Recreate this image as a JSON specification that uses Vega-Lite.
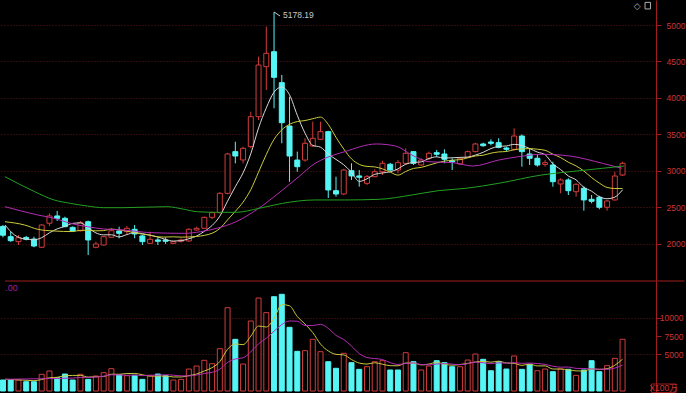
{
"$schema": "https://vega.github.io/schema/vega-lite/v6.json",
"background": "#000000",
"padding": 0,
"spacing": 0,
"bounds": "flush",
"resolve": {"scale": {"color": "independent"}},
"config": {
  "view": {"stroke": null},
  "axis": {"domainColor": "#a01e1e", "domainWidth": 1, "tickColor": "#a01e1e", "tickSize": 5, "labelColor": "#cc3434", "labelFont": "Liberation Sans", "labelFontSize": 8.5, "gridColor": "#5e1616", "gridDash": [1, 2], "gridWidth": 1, "format": "d"}
},
"datasets": {
"one": [{"k": 1}],
"candles": [
{"i":-1,"o":2240,"h":2260,"l":2090,"c":2120},
{"i":0,"o":2100,"h":2169,"l":2030,"c":2045},
{"i":1,"o":2032,"h":2123,"l":1986,"c":2086},
{"i":2,"o":2090,"h":2110,"l":2050,"c":2065},
{"i":3,"o":2068,"h":2100,"l":1955,"c":1972},
{"i":4,"o":1955,"h":2270,"l":1945,"c":2260},
{"i":5,"o":2284,"h":2420,"l":2246,"c":2384},
{"i":6,"o":2384,"h":2452,"l":2315,"c":2352},
{"i":7,"o":2352,"h":2374,"l":2230,"c":2237},
{"i":8,"o":2228,"h":2240,"l":2170,"c":2178},
{"i":9,"o":2182,"h":2315,"l":2169,"c":2292},
{"i":10,"o":2305,"h":2320,"l":1849,"c":2055},
{"i":11,"o":1955,"h":2032,"l":1941,"c":2000},
{"i":12,"o":1986,"h":2110,"l":1980,"c":2100},
{"i":13,"o":2092,"h":2215,"l":2085,"c":2182},
{"i":14,"o":2178,"h":2237,"l":2078,"c":2146},
{"i":15,"o":2169,"h":2246,"l":2123,"c":2215},
{"i":16,"o":2201,"h":2260,"l":2078,"c":2137},
{"i":17,"o":2110,"h":2123,"l":1986,"c":2032},
{"i":18,"o":2009,"h":2169,"l":2000,"c":2064},
{"i":19,"o":2055,"h":2091,"l":1986,"c":2037},
{"i":20,"o":2055,"h":2091,"l":2000,"c":2037},
{"i":21,"o":2009,"h":2040,"l":2000,"c":2032},
{"i":22,"o":2037,"h":2078,"l":2018,"c":2055},
{"i":23,"o":2041,"h":2215,"l":2032,"c":2201},
{"i":24,"o":2192,"h":2237,"l":2182,"c":2215},
{"i":25,"o":2215,"h":2374,"l":2205,"c":2365},
{"i":26,"o":2365,"h":2442,"l":2340,"c":2429},
{"i":27,"o":2429,"h":2710,"l":2420,"c":2694},
{"i":28,"o":2694,"h":3250,"l":2680,"c":3233},
{"i":29,"o":3265,"h":3401,"l":3105,"c":3205},
{"i":30,"o":3151,"h":3333,"l":3105,"c":3311},
{"i":31,"o":3333,"h":3812,"l":3311,"c":3744},
{"i":32,"o":3744,"h":4566,"l":3699,"c":4452},
{"i":33,"o":4429,"h":4977,"l":4110,"c":4612},
{"i":34,"o":4634,"h":5178.19,"l":3859,"c":4283},
{"i":35,"o":4210,"h":4315,"l":3380,"c":3662},
{"i":36,"o":3616,"h":4018,"l":2853,"c":3205},
{"i":37,"o":3150,"h":3265,"l":2990,"c":3059},
{"i":38,"o":3150,"h":3448,"l":3127,"c":3379},
{"i":39,"o":3342,"h":3676,"l":3330,"c":3448},
{"i":40,"o":3434,"h":3676,"l":3425,"c":3539},
{"i":41,"o":3539,"h":3550,"l":2630,"c":2740},
{"i":42,"o":2730,"h":2922,"l":2648,"c":2685},
{"i":43,"o":2685,"h":3030,"l":2670,"c":3013},
{"i":44,"o":3004,"h":3105,"l":2877,"c":2932},
{"i":45,"o":2932,"h":3013,"l":2785,"c":2914},
{"i":46,"o":2831,"h":2945,"l":2808,"c":2922},
{"i":47,"o":2922,"h":3023,"l":2915,"c":2990},
{"i":48,"o":2990,"h":3141,"l":2945,"c":3105},
{"i":49,"o":3092,"h":3110,"l":3000,"c":3013},
{"i":50,"o":3013,"h":3150,"l":2968,"c":3114},
{"i":51,"o":3105,"h":3311,"l":3082,"c":3242},
{"i":52,"o":3265,"h":3270,"l":3082,"c":3105},
{"i":53,"o":3082,"h":3174,"l":3068,"c":3150},
{"i":54,"o":3174,"h":3265,"l":3150,"c":3242},
{"i":55,"o":3251,"h":3288,"l":3196,"c":3229},
{"i":56,"o":3233,"h":3297,"l":3105,"c":3160},
{"i":57,"o":3141,"h":3174,"l":3013,"c":3123},
{"i":58,"o":3096,"h":3188,"l":3082,"c":3174},
{"i":59,"o":3188,"h":3280,"l":3180,"c":3265},
{"i":60,"o":3265,"h":3385,"l":3255,"c":3370},
{"i":61,"o":3370,"h":3388,"l":3333,"c":3346},
{"i":62,"o":3397,"h":3434,"l":3352,"c":3379},
{"i":63,"o":3388,"h":3448,"l":3311,"c":3324},
{"i":64,"o":3315,"h":3333,"l":3264,"c":3297},
{"i":65,"o":3297,"h":3585,"l":3278,"c":3479},
{"i":66,"o":3479,"h":3500,"l":3059,"c":3265},
{"i":67,"o":3233,"h":3311,"l":3082,"c":3174},
{"i":68,"o":3174,"h":3219,"l":3059,"c":3082},
{"i":69,"o":3090,"h":3150,"l":3059,"c":3114},
{"i":70,"o":3082,"h":3127,"l":2785,"c":2853},
{"i":71,"o":2822,"h":2900,"l":2694,"c":2877},
{"i":72,"o":2877,"h":2900,"l":2671,"c":2730},
{"i":73,"o":2716,"h":2831,"l":2648,"c":2818},
{"i":74,"o":2763,"h":2790,"l":2456,"c":2603},
{"i":75,"o":2612,"h":2671,"l":2557,"c":2585},
{"i":76,"o":2640,"h":2660,"l":2475,"c":2503},
{"i":77,"o":2503,"h":2603,"l":2456,"c":2589},
{"i":78,"o":2603,"h":2990,"l":2595,"c":2931},
{"i":79,"o":2945,"h":3127,"l":2931,"c":3105}
],
"ma": [
{"s":"MA5","i":-0.74,"p":2260},{"s":"MA5","i":0.5,"p":2123},{"s":"MA5","i":1.8,"p":2068},{"s":"MA5","i":3,"p":2058},{"s":"MA5","i":4,"p":2086},{"s":"MA5","i":5,"p":2153},{"s":"MA5","i":6,"p":2207},{"s":"MA5","i":7,"p":2241},{"s":"MA5","i":8,"p":2282},{"s":"MA5","i":9,"p":2289},{"s":"MA5","i":10,"p":2223},{"s":"MA5","i":11,"p":2152},{"s":"MA5","i":12,"p":2125},{"s":"MA5","i":13,"p":2126},{"s":"MA5","i":14,"p":2097},{"s":"MA5","i":15,"p":2129},{"s":"MA5","i":16,"p":2156},{"s":"MA5","i":17,"p":2142},{"s":"MA5","i":18,"p":2119},{"s":"MA5","i":19,"p":2097},{"s":"MA5","i":20,"p":2061},{"s":"MA5","i":21,"p":2040},{"s":"MA5","i":22,"p":2045},{"s":"MA5","i":23,"p":2072},{"s":"MA5","i":24,"p":2108},{"s":"MA5","i":25,"p":2174},{"s":"MA5","i":26,"p":2253},{"s":"MA5","i":27,"p":2381},{"s":"MA5","i":28,"p":2587},{"s":"MA5","i":29,"p":2785},{"s":"MA5","i":30,"p":2974},{"s":"MA5","i":31,"p":3237},{"s":"MA5","i":32,"p":3589},{"s":"MA5","i":33,"p":3865},{"s":"MA5","i":34,"p":4080},{"s":"MA5","i":35,"p":4151},{"s":"MA5","i":36,"p":4043},{"s":"MA5","i":37,"p":3764},{"s":"MA5","i":38,"p":3518},{"s":"MA5","i":39,"p":3351},{"s":"MA5","i":40,"p":3326},{"s":"MA5","i":41,"p":3233},{"s":"MA5","i":42,"p":3158},{"s":"MA5","i":43,"p":3085},{"s":"MA5","i":44,"p":2982},{"s":"MA5","i":45,"p":2857},{"s":"MA5","i":46,"p":2893},{"s":"MA5","i":47,"p":2954},{"s":"MA5","i":48,"p":2973},{"s":"MA5","i":49,"p":2989},{"s":"MA5","i":50,"p":3029},{"s":"MA5","i":51,"p":3093},{"s":"MA5","i":52,"p":3116},{"s":"MA5","i":53,"p":3125},{"s":"MA5","i":54,"p":3171},{"s":"MA5","i":55,"p":3194},{"s":"MA5","i":56,"p":3177},{"s":"MA5","i":57,"p":3181},{"s":"MA5","i":58,"p":3186},{"s":"MA5","i":59,"p":3190},{"s":"MA5","i":60,"p":3218},{"s":"MA5","i":61,"p":3256},{"s":"MA5","i":62,"p":3307},{"s":"MA5","i":63,"p":3337},{"s":"MA5","i":64,"p":3343},{"s":"MA5","i":65,"p":3365},{"s":"MA5","i":66,"p":3349},{"s":"MA5","i":67,"p":3308},{"s":"MA5","i":68,"p":3259},{"s":"MA5","i":69,"p":3223},{"s":"MA5","i":70,"p":3098},{"s":"MA5","i":71,"p":3020},{"s":"MA5","i":72,"p":2931},{"s":"MA5","i":73,"p":2878},{"s":"MA5","i":74,"p":2776},{"s":"MA5","i":75,"p":2723},{"s":"MA5","i":76,"p":2648},{"s":"MA5","i":77,"p":2620},{"s":"MA5","i":78,"p":2642},{"s":"MA5","i":79,"p":2743},
{"s":"MA10","i":-0.74,"p":2305},{"s":"MA10","i":1.8,"p":2260},{"s":"MA10","i":3.5,"p":2201},{"s":"MA10","i":5.6,"p":2178},{"s":"MA10","i":8,"p":2170},{"s":"MA10","i":9,"p":2187},{"s":"MA10","i":10,"p":2188},{"s":"MA10","i":11,"p":2180},{"s":"MA10","i":12,"p":2183},{"s":"MA10","i":13,"p":2204},{"s":"MA10","i":14,"p":2193},{"s":"MA10","i":15,"p":2176},{"s":"MA10","i":16,"p":2154},{"s":"MA10","i":17,"p":2134},{"s":"MA10","i":18,"p":2122},{"s":"MA10","i":19,"p":2097},{"s":"MA10","i":20,"p":2095},{"s":"MA10","i":21,"p":2098},{"s":"MA10","i":22,"p":2094},{"s":"MA10","i":23,"p":2096},{"s":"MA10","i":24,"p":2103},{"s":"MA10","i":25,"p":2118},{"s":"MA10","i":26,"p":2147},{"s":"MA10","i":27,"p":2213},{"s":"MA10","i":28,"p":2330},{"s":"MA10","i":29,"p":2447},{"s":"MA10","i":30,"p":2574},{"s":"MA10","i":31,"p":2745},{"s":"MA10","i":32,"p":2985},{"s":"MA10","i":33,"p":3226},{"s":"MA10","i":34,"p":3433},{"s":"MA10","i":35,"p":3563},{"s":"MA10","i":36,"p":3640},{"s":"MA10","i":37,"p":3677},{"s":"MA10","i":38,"p":3691},{"s":"MA10","i":39,"p":3716},{"s":"MA10","i":40,"p":3738},{"s":"MA10","i":41,"p":3638},{"s":"MA10","i":42,"p":3461},{"s":"MA10","i":43,"p":3301},{"s":"MA10","i":44,"p":3166},{"s":"MA10","i":45,"p":3091},{"s":"MA10","i":46,"p":3063},{"s":"MA10","i":47,"p":3056},{"s":"MA10","i":48,"p":3029},{"s":"MA10","i":49,"p":2985},{"s":"MA10","i":50,"p":2943},{"s":"MA10","i":51,"p":2993},{"s":"MA10","i":52,"p":3035},{"s":"MA10","i":53,"p":3049},{"s":"MA10","i":54,"p":3080},{"s":"MA10","i":55,"p":3111},{"s":"MA10","i":56,"p":3135},{"s":"MA10","i":57,"p":3148},{"s":"MA10","i":58,"p":3155},{"s":"MA10","i":59,"p":3180},{"s":"MA10","i":60,"p":3206},{"s":"MA10","i":61,"p":3216},{"s":"MA10","i":62,"p":3244},{"s":"MA10","i":63,"p":3261},{"s":"MA10","i":64,"p":3267},{"s":"MA10","i":65,"p":3292},{"s":"MA10","i":66,"p":3302},{"s":"MA10","i":67,"p":3307},{"s":"MA10","i":68,"p":3298},{"s":"MA10","i":69,"p":3283},{"s":"MA10","i":70,"p":3231},{"s":"MA10","i":71,"p":3184},{"s":"MA10","i":72,"p":3120},{"s":"MA10","i":73,"p":3069},{"s":"MA10","i":74,"p":3000},{"s":"MA10","i":75,"p":2910},{"s":"MA10","i":76,"p":2834},{"s":"MA10","i":77,"p":2775},{"s":"MA10","i":78,"p":2760},{"s":"MA10","i":79,"p":2759},
{"s":"MA20","i":-0.74,"p":2511},{"s":"MA20","i":3.5,"p":2397},{"s":"MA20","i":5.6,"p":2352},{"s":"MA20","i":7.7,"p":2283},{"s":"MA20","i":9.9,"p":2237},{"s":"MA20","i":12,"p":2205},{"s":"MA20","i":14.5,"p":2192},{"s":"MA20","i":18.1,"p":2155},{"s":"MA20","i":22.4,"p":2146},{"s":"MA20","i":24.5,"p":2168},{"s":"MA20","i":26.6,"p":2215},{"s":"MA20","i":29.1,"p":2305},{"s":"MA20","i":31.7,"p":2466},{"s":"MA20","i":35.1,"p":2740},{"s":"MA20","i":37.2,"p":2922},{"s":"MA20","i":39.3,"p":3105},{"s":"MA20","i":40.6,"p":3174},{"s":"MA20","i":43.1,"p":3264},{"s":"MA20","i":47.2,"p":3370},{"s":"MA20","i":49.7,"p":3342},{"s":"MA20","i":51.8,"p":3219},{"s":"MA20","i":54,"p":3127},{"s":"MA20","i":57.1,"p":3114},{"s":"MA20","i":59.7,"p":3068},{"s":"MA20","i":63,"p":3150},{"s":"MA20","i":65.6,"p":3196},{"s":"MA20","i":68.6,"p":3229},{"s":"MA20","i":72.2,"p":3205},{"s":"MA20","i":76.4,"p":3105},{"s":"MA20","i":78.9,"p":3037},
{"s":"MA60","i":-0.74,"p":2922},{"s":"MA60","i":3.1,"p":2716},{"s":"MA60","i":5.6,"p":2603},{"s":"MA60","i":7.7,"p":2557},{"s":"MA60","i":9.9,"p":2520},{"s":"MA60","i":12,"p":2497},{"s":"MA60","i":14.5,"p":2497},{"s":"MA60","i":20.2,"p":2511},{"s":"MA60","i":22.4,"p":2475},{"s":"MA60","i":24.1,"p":2442},{"s":"MA60","i":26.6,"p":2434},{"s":"MA60","i":29.1,"p":2434},{"s":"MA60","i":32.1,"p":2489},{"s":"MA60","i":35.1,"p":2557},{"s":"MA60","i":39.3,"p":2603},{"s":"MA60","i":43.1,"p":2603},{"s":"MA60","i":47.6,"p":2612},{"s":"MA60","i":51.8,"p":2671},{"s":"MA60","i":55.2,"p":2730},{"s":"MA60","i":58.8,"p":2763},{"s":"MA60","i":63,"p":2831},{"s":"MA60","i":68.6,"p":2946},{"s":"MA60","i":72.2,"p":2990},{"s":"MA60","i":76.4,"p":3037},{"s":"MA60","i":79.2,"p":3068}
],
"vol": [
{"i":-1,"v":1500,"d":"d"},{"i":0,"v":1500,"d":"d"},{"i":1,"v":1500,"d":"u"},{"i":2,"v":1270,"d":"d"},{"i":3,"v":1270,"d":"d"},{"i":4,"v":2280,"d":"u"},{"i":5,"v":2730,"d":"u"},{"i":6,"v":1820,"d":"d"},{"i":7,"v":2320,"d":"d"},{"i":8,"v":1500,"d":"d"},{"i":9,"v":2280,"d":"u"},{"i":10,"v":1590,"d":"d"},{"i":11,"v":2050,"d":"u"},{"i":12,"v":2500,"d":"u"},{"i":13,"v":3050,"d":"u"},{"i":14,"v":2230,"d":"d"},{"i":15,"v":2090,"d":"u"},{"i":16,"v":2140,"d":"d"},{"i":17,"v":1590,"d":"d"},{"i":18,"v":2090,"d":"u"},{"i":19,"v":2320,"d":"d"},{"i":20,"v":2090,"d":"d"},{"i":21,"v":1500,"d":"u"},{"i":22,"v":1590,"d":"u"},{"i":23,"v":3000,"d":"u"},{"i":24,"v":3415,"d":"u"},{"i":25,"v":4190,"d":"u"},{"i":26,"v":3730,"d":"u"},{"i":27,"v":5780,"d":"u"},{"i":28,"v":11380,"d":"u"},{"i":29,"v":7060,"d":"d"},{"i":30,"v":3690,"d":"u"},{"i":31,"v":9560,"d":"u"},{"i":32,"v":12700,"d":"u"},{"i":33,"v":10700,"d":"u"},{"i":34,"v":12880,"d":"d"},{"i":35,"v":13210,"d":"d"},{"i":36,"v":8700,"d":"d"},{"i":37,"v":5420,"d":"d"},{"i":38,"v":5510,"d":"u"},{"i":39,"v":7060,"d":"u"},{"i":40,"v":5370,"d":"u"},{"i":41,"v":4000,"d":"d"},{"i":42,"v":3100,"d":"d"},{"i":43,"v":5150,"d":"u"},{"i":44,"v":3870,"d":"d"},{"i":45,"v":2960,"d":"d"},{"i":46,"v":3320,"d":"u"},{"i":47,"v":4000,"d":"u"},{"i":48,"v":4140,"d":"u"},{"i":49,"v":2870,"d":"d"},{"i":50,"v":2870,"d":"d"},{"i":51,"v":5230,"d":"u"},{"i":52,"v":4000,"d":"d"},{"i":53,"v":2870,"d":"u"},{"i":54,"v":3415,"d":"u"},{"i":55,"v":4140,"d":"d"},{"i":56,"v":3870,"d":"d"},{"i":57,"v":3320,"d":"d"},{"i":58,"v":3320,"d":"u"},{"i":59,"v":4230,"d":"u"},{"i":60,"v":5050,"d":"u"},{"i":61,"v":4330,"d":"d"},{"i":62,"v":2770,"d":"d"},{"i":63,"v":4000,"d":"d"},{"i":64,"v":3000,"d":"d"},{"i":65,"v":4780,"d":"u"},{"i":66,"v":2960,"d":"d"},{"i":67,"v":3640,"d":"d"},{"i":68,"v":2770,"d":"u"},{"i":69,"v":3000,"d":"u"},{"i":70,"v":2640,"d":"d"},{"i":71,"v":3000,"d":"u"},{"i":72,"v":2960,"d":"d"},{"i":73,"v":2140,"d":"u"},{"i":74,"v":2870,"d":"d"},{"i":75,"v":4140,"d":"d"},{"i":76,"v":2640,"d":"d"},{"i":77,"v":3460,"d":"u"},{"i":78,"v":4460,"d":"u"},{"i":79,"v":7060,"d":"u"}
],
"vma": [
{"s":"V5","i":-0.74,"v":1600},{"s":"V5","i":1.5,"v":1500},{"s":"V5","i":3,"v":1408},{"s":"V5","i":4,"v":1564},{"s":"V5","i":5,"v":1810},{"s":"V5","i":6,"v":1874},{"s":"V5","i":7,"v":2084},{"s":"V5","i":8,"v":2130},{"s":"V5","i":9,"v":2130},{"s":"V5","i":10,"v":1902},{"s":"V5","i":11,"v":1948},{"s":"V5","i":12,"v":1984},{"s":"V5","i":13,"v":2294},{"s":"V5","i":14,"v":2284},{"s":"V5","i":15,"v":2384},{"s":"V5","i":16,"v":2402},{"s":"V5","i":17,"v":2220},{"s":"V5","i":18,"v":2028},{"s":"V5","i":19,"v":2046},{"s":"V5","i":20,"v":2046},{"s":"V5","i":21,"v":1918},{"s":"V5","i":22,"v":1918},{"s":"V5","i":23,"v":2100},{"s":"V5","i":24,"v":2319},{"s":"V5","i":25,"v":2739},{"s":"V5","i":26,"v":3185},{"s":"V5","i":27,"v":4023},{"s":"V5","i":28,"v":5699},{"s":"V5","i":29,"v":6428},{"s":"V5","i":30,"v":6328},{"s":"V5","i":31,"v":7494},{"s":"V5","i":32,"v":8878},{"s":"V5","i":33,"v":8742},{"s":"V5","i":34,"v":9906},{"s":"V5","i":35,"v":11810},{"s":"V5","i":36,"v":11638},{"s":"V5","i":37,"v":10182},{"s":"V5","i":38,"v":9144},{"s":"V5","i":39,"v":7980},{"s":"V5","i":40,"v":6412},{"s":"V5","i":41,"v":5472},{"s":"V5","i":42,"v":5008},{"s":"V5","i":43,"v":4936},{"s":"V5","i":44,"v":4298},{"s":"V5","i":45,"v":3816},{"s":"V5","i":46,"v":3680},{"s":"V5","i":47,"v":3860},{"s":"V5","i":48,"v":3658},{"s":"V5","i":49,"v":3458},{"s":"V5","i":50,"v":3440},{"s":"V5","i":51,"v":3822},{"s":"V5","i":52,"v":3822},{"s":"V5","i":53,"v":3568},{"s":"V5","i":54,"v":3677},{"s":"V5","i":55,"v":3931},{"s":"V5","i":56,"v":3659},{"s":"V5","i":57,"v":3523},{"s":"V5","i":58,"v":3613},{"s":"V5","i":59,"v":3776},{"s":"V5","i":60,"v":3958},{"s":"V5","i":61,"v":4050},{"s":"V5","i":62,"v":3940},{"s":"V5","i":63,"v":4076},{"s":"V5","i":64,"v":3830},{"s":"V5","i":65,"v":3776},{"s":"V5","i":66,"v":3502},{"s":"V5","i":67,"v":3676},{"s":"V5","i":68,"v":3430},{"s":"V5","i":69,"v":3430},{"s":"V5","i":70,"v":3002},{"s":"V5","i":71,"v":3010},{"s":"V5","i":72,"v":2874},{"s":"V5","i":73,"v":2748},{"s":"V5","i":74,"v":2722},{"s":"V5","i":75,"v":3022},{"s":"V5","i":76,"v":2950},{"s":"V5","i":77,"v":3050},{"s":"V5","i":78,"v":3514},{"s":"V5","i":79,"v":4352},
{"s":"V10","i":-0.74,"v":1600},{"s":"V10","i":4,"v":1680},{"s":"V10","i":8,"v":1769},{"s":"V10","i":9,"v":1847},{"s":"V10","i":10,"v":1856},{"s":"V10","i":11,"v":1911},{"s":"V10","i":12,"v":2034},{"s":"V10","i":13,"v":2212},{"s":"V10","i":14,"v":2207},{"s":"V10","i":15,"v":2143},{"s":"V10","i":16,"v":2175},{"s":"V10","i":17,"v":2102},{"s":"V10","i":18,"v":2161},{"s":"V10","i":19,"v":2165},{"s":"V10","i":20,"v":2215},{"s":"V10","i":21,"v":2160},{"s":"V10","i":22,"v":2069},{"s":"V10","i":23,"v":2064},{"s":"V10","i":24,"v":2183},{"s":"V10","i":25,"v":2393},{"s":"V10","i":26,"v":2552},{"s":"V10","i":27,"v":2971},{"s":"V10","i":28,"v":3900},{"s":"V10","i":29,"v":4374},{"s":"V10","i":30,"v":4534},{"s":"V10","i":31,"v":5340},{"s":"V10","i":32,"v":6451},{"s":"V10","i":33,"v":7221},{"s":"V10","i":34,"v":8167},{"s":"V10","i":35,"v":9069},{"s":"V10","i":36,"v":9566},{"s":"V10","i":37,"v":9530},{"s":"V10","i":38,"v":8943},{"s":"V10","i":39,"v":8943},{"s":"V10","i":40,"v":9111},{"s":"V10","i":41,"v":8555},{"s":"V10","i":42,"v":7595},{"s":"V10","i":43,"v":7040},{"s":"V10","i":44,"v":6139},{"s":"V10","i":45,"v":5114},{"s":"V10","i":46,"v":4576},{"s":"V10","i":47,"v":4434},{"s":"V10","i":48,"v":4297},{"s":"V10","i":49,"v":3878},{"s":"V10","i":50,"v":3628},{"s":"V10","i":51,"v":3751},{"s":"V10","i":52,"v":3841},{"s":"V10","i":53,"v":3613},{"s":"V10","i":54,"v":3568},{"s":"V10","i":55,"v":3686},{"s":"V10","i":56,"v":3741},{"s":"V10","i":57,"v":3673},{"s":"V10","i":58,"v":3591},{"s":"V10","i":59,"v":3727},{"s":"V10","i":60,"v":3945},{"s":"V10","i":61,"v":3855},{"s":"V10","i":62,"v":3732},{"s":"V10","i":63,"v":3845},{"s":"V10","i":64,"v":3803},{"s":"V10","i":65,"v":3867},{"s":"V10","i":66,"v":3776},{"s":"V10","i":67,"v":3808},{"s":"V10","i":68,"v":3753},{"s":"V10","i":69,"v":3630},{"s":"V10","i":70,"v":3389},{"s":"V10","i":71,"v":3256},{"s":"V10","i":72,"v":3275},{"s":"V10","i":73,"v":3089},{"s":"V10","i":74,"v":3076},{"s":"V10","i":75,"v":3012},{"s":"V10","i":76,"v":2980},{"s":"V10","i":77,"v":2962},{"s":"V10","i":78,"v":3131},{"s":"V10","i":79,"v":3537}
]
},
"vconcat": [
{
  "width": 656,
  "height": 281,
  "layer": [
    {
      "data": {"name": "candles"},
      "mark": {"type": "rule", "clip": true, "strokeWidth": 1},
      "encoding": {
        "x": {"field": "i", "type": "quantitative", "title": null, "scale": {"domain": [-0.737, 82.67], "nice": false, "zero": false}, "axis": null},
        "y": {"field": "l", "type": "quantitative", "title": null, "scale": {"domain": [1492.8, 5342.5], "nice": false, "zero": false},
              "axis": {"orient": "right", "values": [2000,2250,2500,2750,3000,3250,3500,3750,4000,4250,4500,4750,5000], "grid": true, "format": "d",
                       "gridOpacity": {"condition": {"test": "datum.value % 500 === 0", "value": 1}, "value": 0},
                       "labelAlign": "right", "labelPadding": 24, "tickSize": 5}},
        "y2": {"field": "h"},
        "color": {"condition": {"test": "datum.c >= datum.o", "value": "#d23c3c"}, "value": "#55f5f5"}
      }
    },
    {
      "data": {"name": "candles"},
      "mark": {"type": "bar", "size": 5, "clip": true, "strokeWidth": 1},
      "encoding": {
        "x": {"field": "i", "type": "quantitative", "title": null},
        "y": {"field": "o", "type": "quantitative", "title": null},
        "y2": {"field": "c"},
        "fill": {"condition": {"test": "datum.c >= datum.o", "value": "#000000"}, "value": "#55f5f5"},
        "stroke": {"condition": {"test": "datum.c >= datum.o", "value": "#d23c3c"}, "value": "#55f5f5"}
      }
    },
    {
      "data": {"name": "ma"},
      "mark": {"type": "line", "strokeWidth": 1, "clip": true, "interpolate": "monotone"},
      "encoding": {
        "x": {"field": "i", "type": "quantitative", "title": null},
        "y": {"field": "p", "type": "quantitative", "title": null},
        "color": {"field": "s", "type": "nominal", "legend": null,
                  "scale": {"domain": ["MA5", "MA10", "MA20", "MA60"], "range": ["#d8d8d8", "#cccc3c", "#b42cb4", "#22a022"]}}
      }
    },
    {
      "data": {"name": "candles"},
      "transform": [{"filter": "datum.i === 34"}],
      "mark": {"type": "rule", "color": "#c8c8c8", "strokeWidth": 1, "x2Offset": 6, "y2Offset": 4},
      "encoding": {
        "x": {"field": "i", "type": "quantitative", "title": null},
        "y": {"field": "h", "type": "quantitative", "title": null},
        "x2": {"field": "i"},
        "y2": {"field": "h"}
      }
    },
    {
      "data": {"name": "candles"},
      "transform": [{"filter": "datum.i === 34"}],
      "mark": {"type": "text", "align": "left", "baseline": "middle", "dx": 9, "dy": 3, "color": "#c8c8c8", "font": "Liberation Sans", "fontSize": 8.5},
      "encoding": {
        "x": {"field": "i", "type": "quantitative", "title": null},
        "y": {"field": "h", "type": "quantitative", "title": null},
        "text": {"field": "h", "type": "quantitative", "format": ".2f"}
      }
    },
    {
      "data": {"name": "one"},
      "mark": {"type": "text", "text": "◇", "color": "#b0b0b0", "font": "DejaVu Sans", "fontSize": 9, "baseline": "middle", "align": "center"},
      "encoding": {
        "x": {"datum": 80.9, "type": "quantitative"},
        "y": {"datum": 5262, "type": "quantitative"}
      }
    },
    {
      "data": {"name": "one"},
      "mark": {"type": "rect", "fill": null, "stroke": "#b0b0b0", "strokeWidth": 1},
      "encoding": {
        "x": {"datum": 81.9, "type": "quantitative"},
        "x2": {"datum": 82.6},
        "y": {"datum": 5310, "type": "quantitative"},
        "y2": {"datum": 5220}
      }
    }
  ]
},
{
  "width": 656,
  "height": 112,
  "layer": [
    {
      "data": {"name": "vol"},
      "mark": {"type": "bar", "size": 5, "clip": true, "strokeWidth": 1},
      "encoding": {
        "x": {"field": "i", "type": "quantitative", "title": null, "scale": {"domain": [-0.737, 82.67], "nice": false, "zero": false}, "axis": null},
        "y": {"field": "v", "type": "quantitative", "title": null, "scale": {"domain": [-273, 15026], "nice": false, "zero": false},
              "axis": {"orient": "right", "values": [5000, 7500, 10000], "grid": true, "format": "d",
                       "gridOpacity": {"condition": {"test": "datum.value % 5000 === 0", "value": 1}, "value": 0},
                       "labelAlign": "right", "labelPadding": 22, "tickSize": 5}},
        "y2": {"datum": 0},
        "fill": {"condition": {"test": "datum.d === 'u'", "value": "#000000"}, "value": "#55f5f5"},
        "stroke": {"condition": {"test": "datum.d === 'u'", "value": "#d23c3c"}, "value": "#55f5f5"}
      }
    },
    {
      "data": {"name": "vma"},
      "mark": {"type": "line", "strokeWidth": 1, "clip": true, "interpolate": "monotone"},
      "encoding": {
        "x": {"field": "i", "type": "quantitative", "title": null},
        "y": {"field": "v", "type": "quantitative", "title": null},
        "color": {"field": "s", "type": "nominal", "legend": null,
                  "scale": {"domain": ["V5", "V10"], "range": ["#c8c83c", "#b42cb4"]}}
      }
    },
    {
      "data": {"name": "one"},
      "mark": {"type": "rule", "color": "#a01e1e", "strokeWidth": 1},
      "encoding": {
        "x": {"datum": -0.737, "type": "quantitative"},
        "x2": {"datum": 87},
        "y": {"datum": 15026, "type": "quantitative"}
      }
    },
    {
      "data": {"name": "one"},
      "mark": {"type": "text", "text": ".00", "color": "#a020a0", "font": "Liberation Sans", "fontSize": 9, "align": "left", "baseline": "middle"},
      "encoding": {
        "x": {"datum": -0.7, "type": "quantitative"},
        "y": {"datum": 14100, "type": "quantitative"}
      }
    },
    {
      "data": {"name": "one"},
      "mark": {"type": "rect", "fill": null, "stroke": "#a01e1e", "strokeWidth": 1},
      "encoding": {
        "x": {"datum": 82.72, "type": "quantitative"},
        "x2": {"datum": 85.9},
        "y": {"datum": 956, "type": "quantitative"},
        "y2": {"datum": -200}
      }
    },
    {
      "data": {"name": "one"},
      "mark": {"type": "text", "text": "X100万", "color": "#cc3434", "font": "Liberation Sans, Noto Sans CJK SC", "fontSize": 8.5, "align": "center", "baseline": "middle"},
      "encoding": {
        "x": {"datum": 84.3, "type": "quantitative"},
        "y": {"datum": 380, "type": "quantitative"}
      }
    }
  ]
}
]
}
